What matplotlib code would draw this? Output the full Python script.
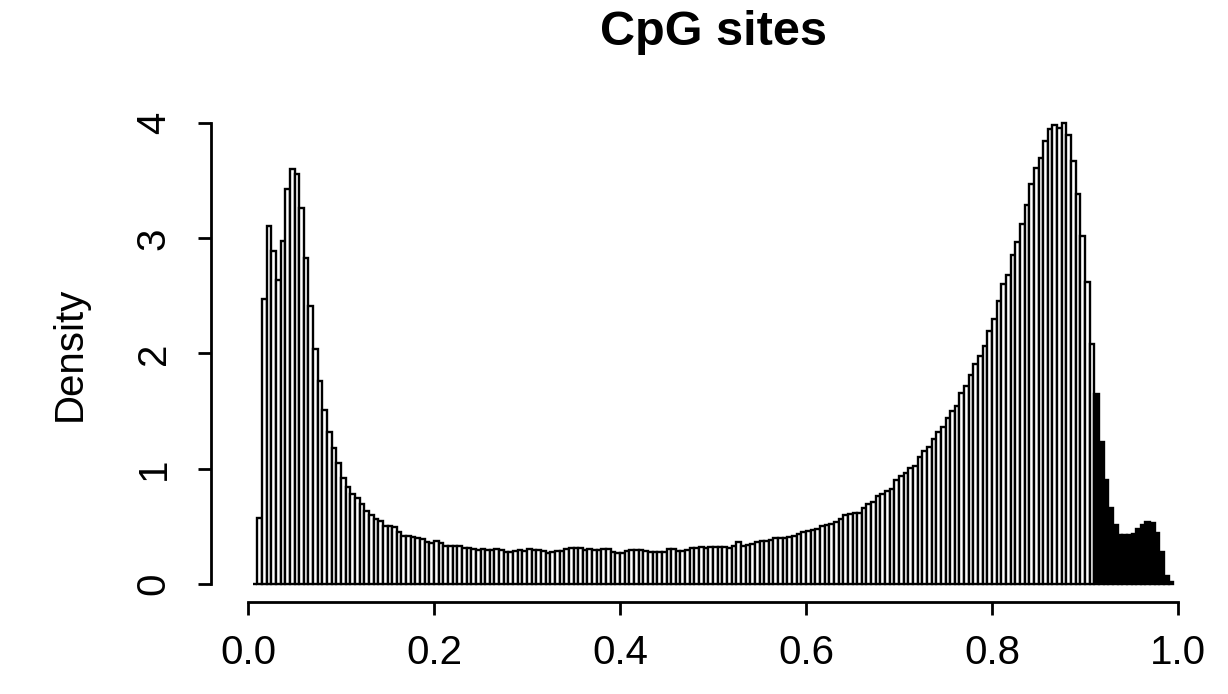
import numpy as np
import matplotlib
matplotlib.use("Agg")
import matplotlib.pyplot as plt

plt.rcParams['font.family'] = ['Liberation Sans', 'DejaVu Sans']

# histogram of methylation levels, 0.005-wide bins from 0.005 to 0.995
bin_width = 0.005
bin_starts = np.round(np.arange(1, 199) * bin_width, 3)
density = [
    0.00, 0.57, 2.47, 3.11, 2.89, 2.64, 2.98, 3.43, 3.60, 3.56,
    3.26, 2.83, 2.41, 2.04, 1.76, 1.51, 1.32, 1.18, 1.05, 0.92,
    0.84, 0.78, 0.75, 0.69, 0.63, 0.60, 0.56, 0.55, 0.50, 0.50,
    0.49, 0.45, 0.42, 0.42, 0.41, 0.40, 0.39, 0.36, 0.355, 0.37,
    0.355, 0.33, 0.33, 0.33, 0.33, 0.31, 0.31, 0.30, 0.295, 0.30,
    0.295, 0.295, 0.30, 0.295, 0.28, 0.28, 0.285, 0.295, 0.29, 0.30,
    0.295, 0.295, 0.29, 0.27, 0.28, 0.29, 0.29, 0.30, 0.315, 0.31,
    0.315, 0.295, 0.30, 0.295, 0.295, 0.30, 0.30, 0.275, 0.27, 0.27,
    0.285, 0.295, 0.295, 0.295, 0.285, 0.28, 0.28, 0.28, 0.28, 0.30,
    0.30, 0.29, 0.29, 0.295, 0.31, 0.31, 0.32, 0.315, 0.32, 0.325,
    0.32, 0.32, 0.31, 0.33, 0.36, 0.33, 0.335, 0.35, 0.365, 0.37,
    0.375, 0.38, 0.395, 0.40, 0.40, 0.41, 0.42, 0.43, 0.45, 0.46,
    0.47, 0.48, 0.50, 0.51, 0.52, 0.535, 0.56, 0.60, 0.61, 0.615,
    0.62, 0.66, 0.69, 0.71, 0.76, 0.78, 0.81, 0.82, 0.90, 0.94,
    0.96, 1.01, 1.02, 1.10, 1.15, 1.19, 1.26, 1.32, 1.365, 1.44,
    1.50, 1.54, 1.655, 1.72, 1.81, 1.91, 1.98, 2.065, 2.195, 2.30,
    2.455, 2.60, 2.68, 2.855, 2.97, 3.12, 3.29, 3.47, 3.61, 3.70,
    3.84, 3.95, 3.98, 3.96, 4.00, 3.90, 3.67, 3.38, 3.02, 2.62,
    2.08, 1.65, 1.235, 0.90, 0.66, 0.51, 0.425, 0.425, 0.425, 0.43,
    0.475, 0.51, 0.535, 0.53, 0.44, 0.28, 0.065, 0.02,
]
x_ticks = [0.0, 0.2, 0.4, 0.6, 0.8, 1.0]
y_ticks = [0, 1, 2, 3, 4]

fig = plt.figure(figsize=(12.28, 6.94), dpi=100)
ax = fig.add_axes([0.1717, 0.132, 0.8179, 0.7173])

# bins above 0.91 are drawn solid
faces = ['black' if s >= 0.91 else 'white' for s in bin_starts]
ax.bar(bin_starts, density, width=bin_width, align='edge',
       color=faces, edgecolor='black', linewidth=1.7)

ax.set_xlim(-0.04, 1.04)
ax.set_ylim(-0.16, 4.16)

for side in ['top', 'right']:
    ax.spines[side].set_visible(False)
ax.spines['left'].set_bounds(0, 4)
ax.spines['bottom'].set_bounds(0, 1)
for side in ['left', 'bottom']:
    ax.spines[side].set_linewidth(2.0)

ax.set_xticks(x_ticks)
ax.set_xticklabels([f'{v:.1f}' for v in x_ticks])
ax.set_yticks(y_ticks)
ax.set_yticklabels([str(v) for v in y_ticks], rotation=90, va='center')
ax.tick_params(axis='both', direction='out', length=9.5, width=2.0,
               labelsize=29)
ax.tick_params(axis='x', pad=13)
ax.tick_params(axis='y', pad=18)

ax.set_ylabel('Density', fontsize=29, labelpad=33)
ax.set_title('CpG sites', fontsize=35, fontweight='bold', pad=43)

fig.savefig('out.png', dpi=100)
